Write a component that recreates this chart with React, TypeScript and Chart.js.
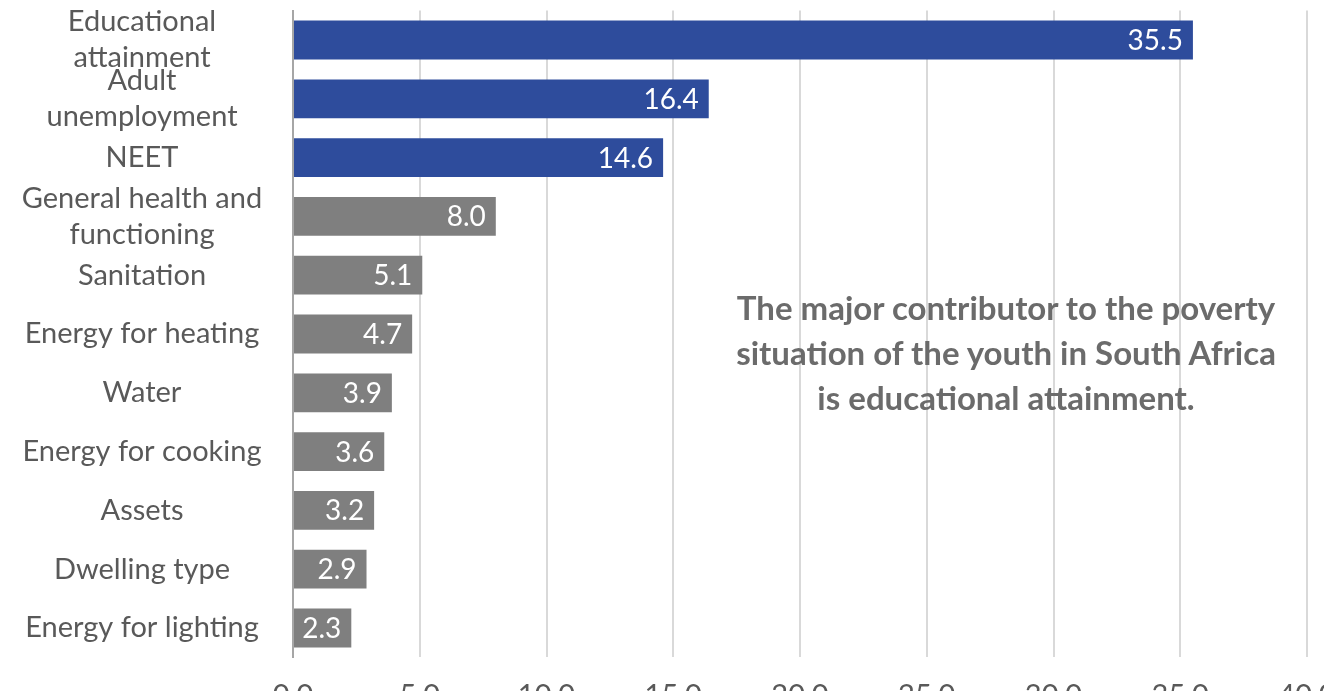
import React, { useEffect, useRef } from "react";
import { Chart, registerables } from "chart.js";

Chart.register(...registerables);

// ---- data ----
const categories: (string | string[])[] = [
  ["Educational", "attainment"],
  ["Adult", "unemployment"],
  "NEET",
  ["General health and", "functioning"],
  "Sanitation",
  "Energy for heating",
  "Water",
  "Energy for cooking",
  "Assets",
  "Dwelling type",
  "Energy for lighting",
];
const values: number[] = [35.5, 16.4, 14.6, 8.0, 5.1, 4.7, 3.9, 3.6, 3.2, 2.9, 2.3];
const highlighted: string[] = ["Educational attainment", "Adult unemployment", "NEET"];
const xMin = 0;
const xMax = 40;
const xStep = 5;
const annotationLines: string[] = [
  "The major contributor to the poverty",
  "situation of the youth in South Africa",
  "is educational attainment.",
];

// ---- styles ----
const BLUE = "#2E4C9C";
const GREY = "#7F7F7F";
const TEXT = "#595959";
const FONT = "Lato";
const W = 1324;
const H = 722;
const PLOT_LEFT = 293;
const PLOT_RIGHT = 1307;
const PLOT_TOP = 10.6;
const PLOT_BOTTOM = 657.4;
const LABEL_CENTER = 142;
const LABEL_SIZE = 29;

const labelKey = (c: string | string[]) => (Array.isArray(c) ? c.join(" ") : c);

const valueLabels = {
  id: "valueLabels",
  afterDatasetsDraw(chart: any) {
    const ctx = chart.ctx;
    const meta = chart.getDatasetMeta(0);
    ctx.save();
    ctx.font = `28px ${FONT}`;
    ctx.fillStyle = "#ffffff";
    ctx.textAlign = "right";
    ctx.textBaseline = "middle";
    meta.data.forEach((bar: any, i: number) => {
      ctx.fillText(values[i].toFixed(1), bar.x - 10, bar.y + 1);
    });
    ctx.restore();
  },
};

export default function App() {
  const ref = useRef<HTMLCanvasElement | null>(null);

  useEffect(() => {
    if (!ref.current) return;
    const mctx = document.createElement("canvas").getContext("2d")!;
    mctx.font = `${LABEL_SIZE}px ${FONT}`;
    let widest = 0;
    categories.forEach((c) => {
      (Array.isArray(c) ? c : [c]).forEach((line) => {
        widest = Math.max(widest, mctx.measureText(line).width);
      });
    });
    const yPad = Math.max(0, PLOT_LEFT - LABEL_CENTER - widest / 2);

    const chart = new Chart(ref.current, {
      type: "bar",
      data: {
        labels: categories,
        datasets: [
          {
            data: values,
            backgroundColor: categories.map((c) =>
              highlighted.includes(labelKey(c)) ? BLUE : GREY
            ),
            borderWidth: 0,
            categoryPercentage: 1,
            barPercentage: 0.66,
          },
        ],
      },
      options: {
        indexAxis: "y",
        animation: false,
        responsive: false,
        devicePixelRatio: 1,
        layout: {
          padding: { top: PLOT_TOP, right: W - PLOT_RIGHT, left: 0, bottom: 0 },
        },
        plugins: {
          legend: { display: false },
          tooltip: { enabled: false },
        },
        scales: {
          x: {
            min: xMin,
            max: xMax,
            ticks: {
              stepSize: xStep,
              color: TEXT,
              font: { family: FONT, size: LABEL_SIZE },
              padding: 21,
              maxRotation: 0,
              callback: (v: any) => Number(v).toFixed(1),
            },
            grid: { color: "#D9D9D9", lineWidth: 2, drawTicks: false },
            border: { display: false },
            afterFit: (s: any) => {
              s.height = H - PLOT_BOTTOM;
              s.paddingLeft = 0;
              s.paddingRight = 0;
            },
          },
          y: {
            ticks: {
              autoSkip: false,
              color: TEXT,
              crossAlign: "center",
              padding: yPad,
              font: { family: FONT, size: LABEL_SIZE, lineHeight: 36 / LABEL_SIZE },
            },
            grid: { display: false, drawTicks: false },
            border: { display: true, color: "#A6A6A6", width: 2 },
            afterFit: (s: any) => {
              s.width = PLOT_LEFT;
              s.paddingTop = 0;
              s.paddingBottom = 0;
            },
          },
        },
      } as any,
      plugins: [valueLabels],
    });
    return () => chart.destroy();
  }, []);

  return (
    <div
      style={{
        position: "fixed",
        left: 0,
        top: 0,
        width: W,
        height: 691,
        overflow: "hidden",
        background: "#fff",
      }}
    >
      <canvas ref={ref} width={W} height={H} style={{ display: "block", width: W, height: H }} />
      <div
        style={{
          position: "absolute",
          left: 1006 - 320,
          top: 285,
          width: 640,
          textAlign: "center",
          fontFamily: FONT,
          fontWeight: 700,
          fontSize: 33,
          lineHeight: "45px",
          color: "#6B6B6B",
        }}
      >
        {annotationLines.map((l, i) => (
          <div key={i}>{l}</div>
        ))}
      </div>
    </div>
  );
}
